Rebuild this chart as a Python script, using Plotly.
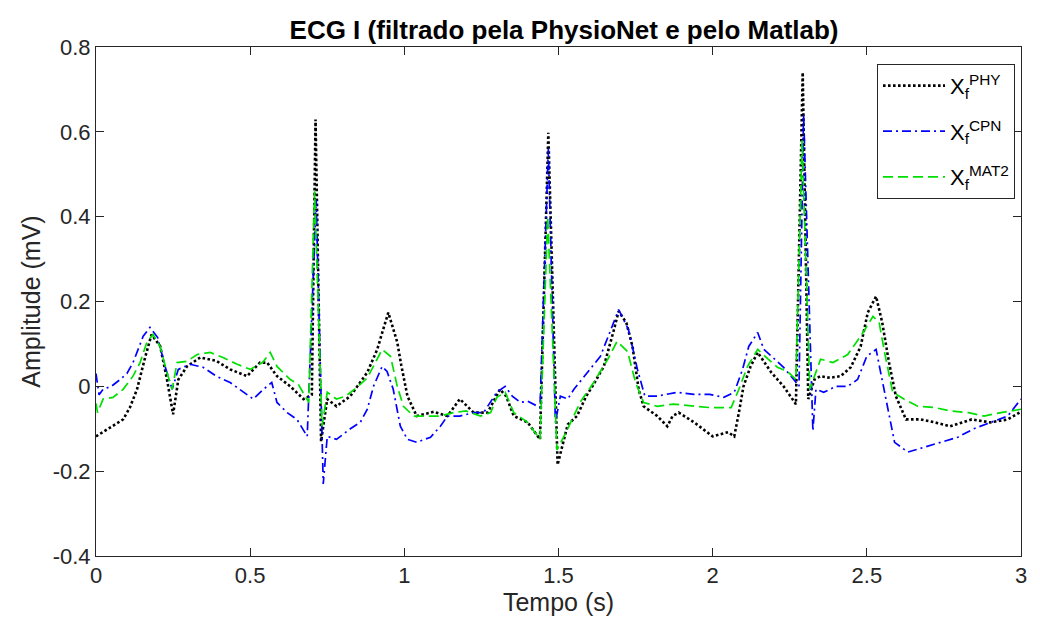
import plotly.graph_objects as go

# ---- data ----
t_phy = [0.00, 0.03, 0.06, 0.088, 0.11, 0.133, 0.16, 0.18, 0.208, 0.23, 0.25, 0.267, 0.295, 0.338,
         0.39, 0.435, 0.49, 0.532, 0.555, 0.587, 0.63, 0.673, 0.70, 0.712, 0.73, 0.75, 0.78, 0.825,
         0.88, 0.912, 0.948, 0.977, 0.99, 1.01, 1.04, 1.07, 1.095, 1.14, 1.18, 1.225, 1.27, 1.31,
         1.33, 1.355, 1.40, 1.44, 1.467, 1.497, 1.53, 1.56, 1.59, 1.61, 1.647, 1.68, 1.695, 1.72,
         1.74, 1.76, 1.776, 1.82, 1.853, 1.87, 1.89, 1.94, 2.00, 2.05, 2.07, 2.085, 2.10, 2.123,
         2.146, 2.19, 2.23, 2.27, 2.292, 2.31, 2.33, 2.35, 2.38, 2.415, 2.448, 2.48, 2.503, 2.53,
         2.55, 2.572, 2.594, 2.627, 2.675, 2.72, 2.77, 2.84, 2.90, 2.957, 3.00]
v_phy = [-0.118, -0.105, -0.09, -0.078, -0.05, -0.007, 0.07, 0.122, 0.095, 0.017, -0.066, 0.016, 0.047, 0.068,
         0.06, 0.04, 0.024, 0.056, 0.056, 0.024, 0.0, -0.03, -0.02, 0.629, -0.13, -0.03, -0.047, -0.023,
         0.033, 0.087, 0.174, 0.104, 0.05, -0.023, -0.07, -0.065, -0.06, -0.07, -0.03, -0.062, -0.062, -0.007,
         -0.023, -0.07, -0.085, -0.125, 0.598, -0.185, -0.09, -0.07, -0.023, 0.0, 0.047, 0.134, 0.177, 0.15,
         0.094, -0.007, -0.047, -0.07, -0.094, -0.07, -0.062, -0.085, -0.118, -0.108, -0.118, -0.062, 0.0, 0.047,
         0.08, 0.033, 0.0, -0.042, 0.74, -0.03, 0.016, 0.024, 0.02, 0.024, 0.045, 0.094, 0.174, 0.212,
         0.15, 0.056, -0.023, -0.078, -0.078, -0.085, -0.094, -0.078, -0.085, -0.078, -0.06]

t_cpn = [0.00, 0.01, 0.023, 0.05, 0.078, 0.10, 0.12, 0.153, 0.175, 0.20, 0.224, 0.247, 0.267, 0.305,
         0.347, 0.39, 0.435, 0.477, 0.51, 0.543, 0.57, 0.587, 0.62, 0.652, 0.685, 0.714, 0.737, 0.75,
         0.78, 0.825, 0.857, 0.88, 0.90, 0.928, 0.944, 0.964, 0.987, 1.01, 1.04, 1.085, 1.117, 1.14,
         1.18, 1.225, 1.257, 1.30, 1.327, 1.35, 1.377, 1.40, 1.44, 1.467, 1.49, 1.506, 1.53, 1.55,
         1.594, 1.636, 1.67, 1.695, 1.727, 1.756, 1.78, 1.82, 1.886, 1.94, 1.99, 2.036, 2.07, 2.097,
         2.117, 2.146, 2.166, 2.20, 2.23, 2.263, 2.28, 2.295, 2.325, 2.335, 2.36, 2.40, 2.438, 2.47,
         2.50, 2.53, 2.55, 2.57, 2.59, 2.633, 2.685, 2.74, 2.795, 2.847, 2.90, 2.957, 3.00]
v_cpn = [0.03, -0.02, -0.007, 0.0, 0.016, 0.03, 0.056, 0.118, 0.139, 0.115, 0.047, -0.007, 0.04, 0.052,
         0.045, 0.024, 0.009, -0.014, -0.03, -0.007, 0.009, -0.038, -0.062, -0.078, -0.118, 0.44, -0.23, -0.118,
         -0.125, -0.1, -0.085, -0.054, 0.0, 0.047, 0.035, -0.007, -0.094, -0.125, -0.132, -0.12, -0.094, -0.07,
         -0.07, -0.062, -0.062, -0.014, 0.0, -0.023, -0.038, -0.035, -0.05, 0.56, -0.085, -0.023, -0.03, -0.007,
         0.033, 0.071, 0.134, 0.181, 0.134, 0.04, -0.023, -0.023, -0.014, -0.019, -0.019, -0.026, -0.014, 0.04,
         0.094, 0.127, 0.087, 0.064, 0.045, 0.016, 0.0, 0.64, -0.105, -0.007, -0.014, 0.0, 0.0, 0.016,
         0.071, 0.087, 0.016, -0.062, -0.132, -0.155, -0.144, -0.132, -0.12, -0.1, -0.085, -0.07, -0.03]

t_mat2 = [0.00, 0.005, 0.023, 0.055, 0.088, 0.12, 0.143, 0.165, 0.185, 0.208, 0.23, 0.247, 0.263, 0.295,
          0.328, 0.37, 0.412, 0.458, 0.50, 0.54, 0.565, 0.587, 0.63, 0.656, 0.69, 0.709, 0.733, 0.75,
          0.78, 0.81, 0.847, 0.88, 0.906, 0.928, 0.955, 0.977, 0.997, 1.03, 1.075, 1.117, 1.16, 1.20,
          1.247, 1.28, 1.30, 1.327, 1.355, 1.40, 1.44, 1.465, 1.495, 1.53, 1.57, 1.614, 1.66, 1.69,
          1.724, 1.75, 1.776, 1.82, 1.873, 1.94, 1.99, 2.06, 2.085, 2.113, 2.146, 2.18, 2.21, 2.243,
          2.27, 2.29, 2.315, 2.35, 2.39, 2.438, 2.48, 2.52, 2.54, 2.56, 2.584, 2.62, 2.665, 2.72,
          2.77, 2.83, 2.88, 2.935, 3.00]
v_mat2 = [-0.04, -0.062, -0.03, -0.026, -0.007, 0.024, 0.056, 0.104, 0.122, 0.094, 0.033, -0.007, 0.056, 0.059,
          0.075, 0.08, 0.068, 0.052, 0.04, 0.056, 0.08, 0.047, 0.016, 0.005, -0.038, 0.46, -0.094, -0.014,
          -0.03, -0.023, -0.002, 0.02, 0.056, 0.087, 0.071, 0.0, -0.047, -0.07, -0.07, -0.07, -0.062, -0.058,
          -0.07, -0.062, -0.026, -0.014, -0.062, -0.085, -0.125, 0.40, -0.15, -0.1, -0.038, 0.009, 0.064, 0.106,
          0.082, 0.009, -0.038, -0.047, -0.042, -0.047, -0.05, -0.05, -0.007, 0.047, 0.087, 0.064, 0.045, 0.035,
          0.016, 0.58, -0.007, 0.064, 0.056, 0.075, 0.118, 0.165, 0.15, 0.071, -0.014, -0.03, -0.047, -0.05,
          -0.058, -0.062, -0.07, -0.062, -0.054]

names = ["X<sub>f</sub><sup>PHY</sup>", "X<sub>f</sub><sup>CPN</sup>", "X<sub>f</sub><sup>MAT2</sup>"]

x_tickvals = [0, 0.5, 1, 1.5, 2, 2.5, 3]
x_ticktext = ["0", "0.5", "1", "1.5", "2", "2.5", "3"]
y_tickvals = [-0.4, -0.2, 0, 0.2, 0.4, 0.6, 0.8]
y_ticktext = ["-0.4", "-0.2", "0", "0.2", "0.4", "0.6", "0.8"]

FONT = "Liberation Sans, Arial, Helvetica, sans-serif"
AX = "#262626"

fig = go.Figure()
fig.add_trace(go.Scatter(x=t_phy, y=v_phy, mode="lines", name=names[0], legendgroup="phy",
                         line=dict(color="#000000", width=2.6, dash="2.6px,2.4px")))
fig.add_trace(go.Scatter(x=t_cpn, y=v_cpn, mode="lines", name=names[1], legendgroup="cpn",
                         line=dict(color="#0000ff", width=1.7, dash="9px,4px,2px,4px")))
fig.add_trace(go.Scatter(x=t_mat2, y=v_mat2, mode="lines", name=names[2], legendgroup="mat2",
                         line=dict(color="#00e000", width=1.7, dash="10px,5px")))

axis_common = dict(showline=True, linecolor=AX, linewidth=1, mirror="ticks", ticks="inside",
                   ticklen=8, tickcolor=AX, showgrid=False, zeroline=False, automargin=False,
                   tickfont=dict(family=FONT, size=22, color=AX))

fig.update_layout(
    width=1040, height=634,
    margin=dict(l=96, r=19, t=47, b=78),
    paper_bgcolor="white", plot_bgcolor="white",
    font=dict(family=FONT, color=AX),
    title=dict(text="<b>ECG I (filtrado pela PhysioNet e pelo Matlab)</b>",
               xref="paper", x=0.506, xanchor="center", y=0.953, yanchor="middle",
               font=dict(family=FONT, size=26, color="#000000")),
    xaxis=dict(range=[0, 3], tickvals=x_tickvals, ticktext=x_ticktext,
               title=dict(text="Tempo (s)", font=dict(family=FONT, size=25, color=AX), standoff=6),
               **axis_common),
    yaxis=dict(range=[-0.4, 0.8], tickvals=y_tickvals, ticktext=y_ticktext,
               title=dict(text="Amplitude (mV)", font=dict(family=FONT, size=25, color=AX), standoff=4),
               **axis_common),
    legend=dict(x=0.9935, xanchor="right", y=0.967, yanchor="top",
                bgcolor="white", bordercolor=AX, borderwidth=1,
                font=dict(family=FONT, size=22, color="#000000"),
                traceorder="grouped", tracegroupgap=14, itemwidth=62),
    showlegend=True,
)

fig.write_html("out.html")
